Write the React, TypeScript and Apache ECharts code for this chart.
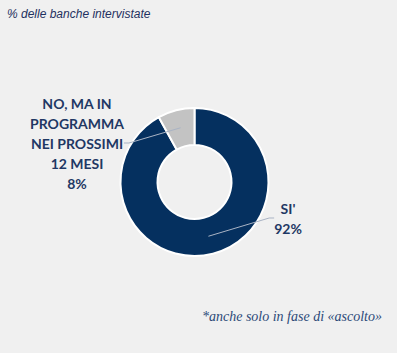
import React, { useEffect, useRef } from "react";
import * as echarts from "echarts";

const categories = ["SI'", "NO, MA IN\nPROGRAMMA\nNEI PROSSIMI\n12 MESI"];
const values = [92, 8];
const colors = ["#05305f", "#c3c3c3"];
const titleText = "% delle banche intervistate";
const noteText = "*anche solo in fase di «ascolto»";

export default function App() {
  const ref = useRef<HTMLDivElement>(null);
  useEffect(() => {
    const chart = echarts.init(ref.current!, null, { renderer: "svg" });
    const center = [194.5, 182];
    chart.setOption({
      animation: false,
      backgroundColor: "#f0f0f0",
      title: {
        text: titleText,
        left: 2,
        top: 3,
        textStyle: {
          fontFamily: "Liberation Sans, Arial",
          fontStyle: "italic",
          fontWeight: "normal",
          fontSize: 12,
          color: "#1f3060",
        },
      },
      graphic: [
        {
          type: "text",
          right: 15,
          top: 309,
          style: {
            text: noteText,
            font: "italic 14px 'Liberation Serif', 'Times New Roman', serif",
            fill: "#2c4a78",
          },
        },
      ],
      series: [
        {
          type: "pie",
          center,
          radius: [37, 74],
          startAngle: 90,
          clockwise: true,
          z: 1,
          itemStyle: { borderColor: "#ffffff", borderWidth: 2 },
          label: { show: false },
          labelLine: { show: false },
          data: categories.map((c, i) => ({
            name: c,
            value: values[i],
            itemStyle: { color: colors[i] },
          })),
        },
        {
          type: "pie",
          center,
          radius: [0, 56],
          startAngle: 90,
          clockwise: true,
          silent: true,
          z: 3,
          itemStyle: { color: "rgba(0,0,0,0)", borderWidth: 0 },
          data: categories.map((c, i) => ({ name: c, value: values[i] })),
          label: {
            show: true,
            formatter: (p: any) => `${p.name}\n${p.value}%`,
            fontFamily: "Lato, 'Open Sans', sans-serif",
            fontWeight: "bold",
            fontSize: 14,
            lineHeight: 20,
            color: "#1f3864",
            align: "center",
          },
          labelLine: {
            show: true,
            length: 10,
            length2: 5,
            lineStyle: { color: "#a9b3c4", width: 1 },
          },
          labelLayout: (params: any) => {
            if (params.dataIndex === 0) {
              return { x: 288, y: 218, align: "center", verticalAlign: "middle" };
            }
            return { x: 77, y: 143, align: "center", verticalAlign: "middle" };
          },
        },
      ],
    });
    return () => chart.dispose();
  }, []);
  return (
    <div
      ref={ref}
      style={{ position: "fixed", left: 0, top: 0, width: 397, height: 353 }}
    />
  );
}
